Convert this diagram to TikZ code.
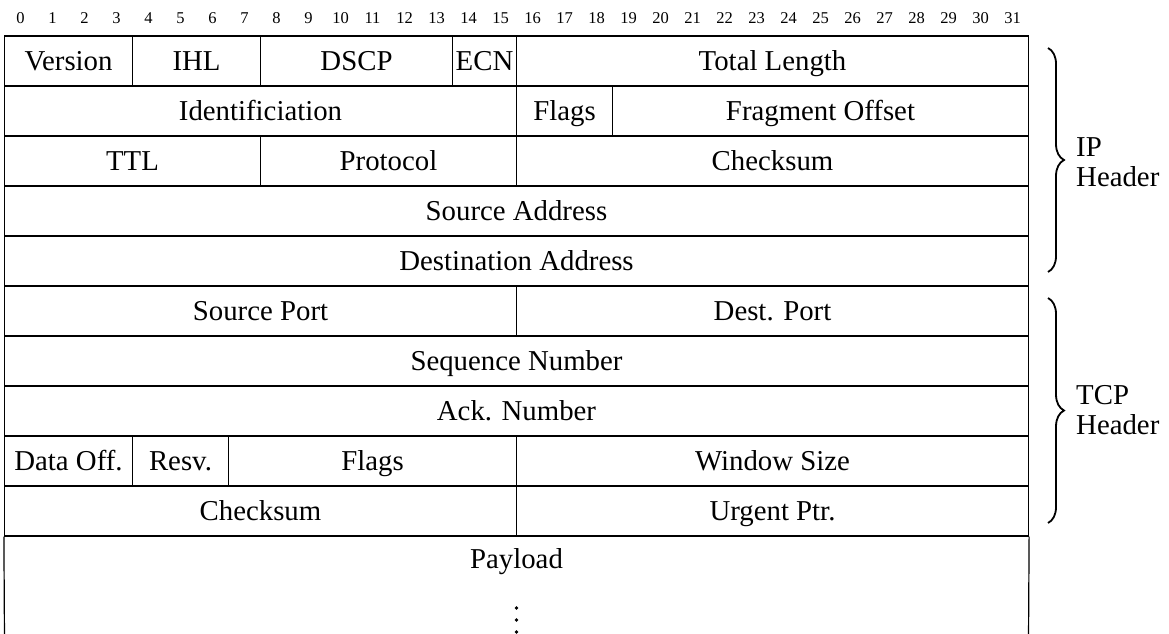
\documentclass[tikz,border=0pt]{standalone}
\usepackage{fontspec}
\setmainfont{Liberation Serif}
\usetikzlibrary{decorations.pathreplacing}
\begin{document}
\begin{tikzpicture}[x=1pt,y=-1pt,
  cell/.style={draw,line width=1.2pt,rectangle,inner sep=0pt,minimum height=50pt,
    font=\fontsize{28.8}{32}\selectfont,text height=19pt,text depth=0pt},
  bitnum/.style={inner sep=0pt,font=\fontsize{16.5}{18}\selectfont,text height=11pt,text depth=0pt},
  hdrbrace/.style={decorate,decoration={brace,amplitude=16pt},line width=1.8pt},
  hdrlabel/.style={anchor=west,align=left,inner sep=0pt,font=\fontsize{28.8}{30}\selectfont}
]
\useasboundingbox (0,0) rectangle (1169,633);
% bit numbers
\foreach \i in {0,...,31}{
  \node[bitnum] (b\i) at ({20.5+32*\i},18) {\i};
}
% row 1
\node[cell,minimum width=128pt] (version) at (68.5,61) {Version};
\node[cell,minimum width=128pt] (ihl) at (196.5,61) {IHL};
\node[cell,minimum width=192pt] (dscp) at (356.5,61) {DSCP};
\node[cell,minimum width=64pt] (ecn) at (484.5,61) {ECN};
\node[cell,minimum width=512pt] (totlen) at (772.5,61) {Total Length};
% row 2
\node[cell,minimum width=512pt] (ident) at (260.5,111) {Identificiation};
\node[cell,minimum width=96pt] (ipflags) at (564.5,111) {Flags};
\node[cell,minimum width=416pt] (fragoff) at (820.5,111) {Fragment Offset};
% row 3
\node[cell,minimum width=256pt] (ttl) at (132.5,161) {TTL};
\node[cell,minimum width=256pt] (proto) at (388.5,161) {Protocol};
\node[cell,minimum width=512pt] (ipcsum) at (772.5,161) {Checksum};
% row 4-5
\node[cell,minimum width=1024pt] (srcaddr) at (516.5,211) {Source Address};
\node[cell,minimum width=1024pt] (dstaddr) at (516.5,261) {Destination Address};
% TCP rows
\node[cell,minimum width=512pt] (srcport) at (260.5,311) {Source Port};
\node[cell,minimum width=512pt] (dstport) at (772.5,311) {Dest. Port};
\node[cell,minimum width=1024pt] (seq) at (516.5,361) {Sequence Number};
\node[cell,minimum width=1024pt] (ack) at (516.5,411) {Ack. Number};
\node[cell,minimum width=128pt] (dataoff) at (68.5,461) {Data Off.};
\node[cell,minimum width=96pt] (resv) at (180.5,461) {Resv.};
\node[cell,minimum width=288pt] (tcpflags) at (372.5,461) {Flags};
\node[cell,minimum width=512pt] (win) at (772.5,461) {Window Size};
\node[cell,minimum width=512pt] (tcpcsum) at (260.5,511) {Checksum};
\node[cell,minimum width=512pt] (urg) at (772.5,511) {Urgent Ptr.};
% payload
\node[cell,draw=none] (payload) at (516.5,559) {Payload};
\coordinate (pl) at (4.5,640);
\coordinate (pr) at (1028.5,640);
\draw[line width=1.2pt] (tcpcsum.south west) -- (pl);
\draw[line width=1.2pt] (urg.south east) -- (pr);
\foreach \yy in {608,620,632}{
  \fill (516.5,\yy) circle[radius=1.9pt];
}
% braces
\coordinate (ipt) at (1048,48);
\coordinate (ipb) at (1048,272);
\coordinate (tct) at (1048,298);
\coordinate (tcb) at (1048,523);
\draw[hdrbrace] (ipt) -- (ipb);
\draw[hdrbrace] (tct) -- (tcb);
\node[hdrlabel] (iplabel) at (1076,162) {IP\\Header};
\node[hdrlabel] (tcplabel) at (1076,410) {TCP\\Header};
\end{tikzpicture}
\end{document}
